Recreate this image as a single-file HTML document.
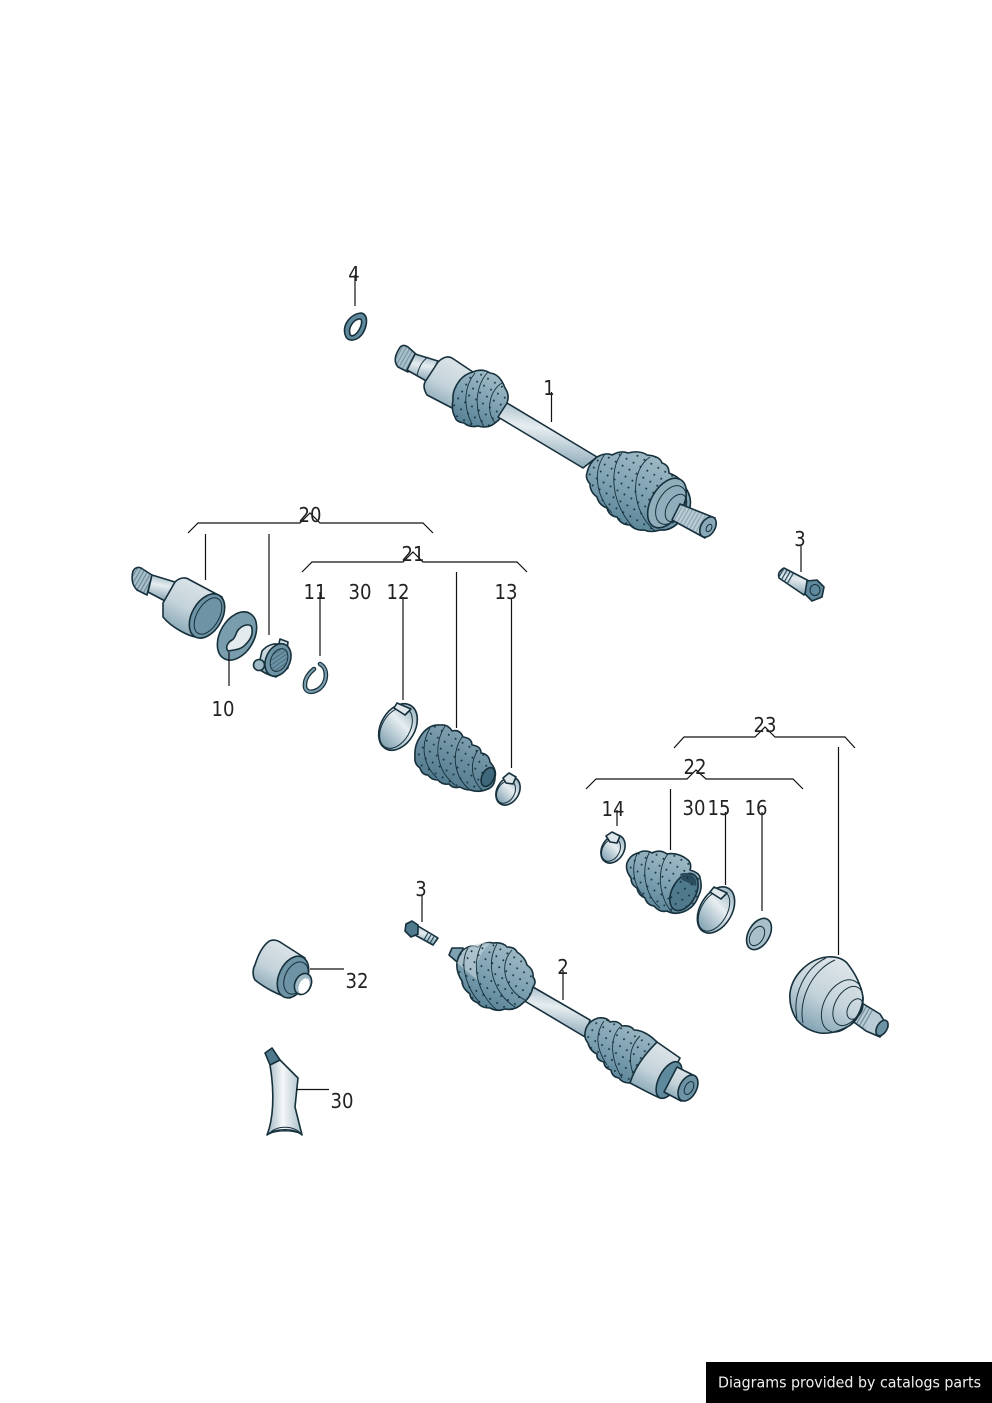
<!DOCTYPE html>
<html>
<head>
<meta charset="utf-8">
<style>
html,body{margin:0;padding:0;background:#fff;width:992px;height:1403px;overflow:hidden}
svg{display:block}
text{font-family:"DejaVu Sans","Liberation Sans",sans-serif;font-size:20px;fill:#222;text-anchor:middle}
.l{stroke:#111;stroke-width:1.2;fill:none}
.o{stroke:#16303c;stroke-width:1.6;stroke-linejoin:round}
.r{stroke:#16303c;stroke-width:.9;fill:none}
.s{stroke:#16303c;stroke-width:1;fill:none}
</style>
</head>
<body>
<svg width="992" height="1403" viewBox="0 0 992 1403" xmlns="http://www.w3.org/2000/svg">
<defs>
<linearGradient id="m" x1=".75" y1="0" x2=".25" y2="1"><stop offset="0" stop-color="#e0e7eb"/><stop offset=".55" stop-color="#c4d3da"/><stop offset="1" stop-color="#7d9fb0"/></linearGradient>
<linearGradient id="m2" x1=".75" y1="0" x2=".25" y2="1"><stop offset="0" stop-color="#6f8d9c"/><stop offset=".45" stop-color="#c4d2d9"/><stop offset="1" stop-color="#f6f9fa"/></linearGradient>
<linearGradient id="sh" x1=".6" y1="0" x2=".4" y2="1"><stop offset="0" stop-color="#9db6c2"/><stop offset=".4" stop-color="#e6edf0"/><stop offset="1" stop-color="#7f9fb0"/></linearGradient>
<linearGradient id="b" x1=".75" y1="0" x2=".25" y2="1"><stop offset="0" stop-color="#a4bdc9"/><stop offset=".5" stop-color="#7fa2b2"/><stop offset="1" stop-color="#537f93"/></linearGradient>
<linearGradient id="d" x1=".75" y1="0" x2=".25" y2="1"><stop offset="0" stop-color="#8aa8b6"/><stop offset="1" stop-color="#4a7488"/></linearGradient>
<linearGradient id="v" x1="0" y1="0" x2="1" y2="0"><stop offset="0" stop-color="#9fb6c2"/><stop offset=".45" stop-color="#f4f7f8"/><stop offset="1" stop-color="#a9bfca"/></linearGradient>
<pattern id="dots" width="8" height="8" patternUnits="userSpaceOnUse" patternTransform="rotate(30)"><circle cx="4" cy="4" r=".95" fill="#14303c"/></pattern>
<pattern id="spl" width="3.5" height="3.5" patternUnits="userSpaceOnUse" patternTransform="rotate(30)"><rect width="1.2" height="3.5" fill="#23485a"/></pattern>
<path id="b1" d="M473,372 Q482,368 490,373 Q500,374 505,388 Q510,395 507,403 Q505,416 495,423 Q488,429 478,426 Q470,428 464,423 Q456,422 455,417 Q451,410 453,400 Q452,390 460,380 Q465,374 473,372Z"/>
<path id="b2" d="M597,457 Q606,452 612,455 Q621,450 628,453 Q640,450 647,455 Q660,456 662,463 Q669,465 669,473 Q682,478 685,487 Q692,496 690,507 Q688,518 678,523 Q670,531 660,530 Q651,533 644,530 Q636,531 630,525 Q621,525 617,517 Q609,516 607,508 Q599,505 597,497 Q590,492 590,484 Q585,478 587,473 Q589,463 597,457Z"/>
<path id="b3" d="M420,737 Q428,724 440,725 Q448,724 452,731 Q460,729 463,737 Q472,738 472,745 Q481,746 481,753 Q489,754 490,762 Q497,770 495,777 Q495,786 488,789 Q479,793 470,790 Q465,790 460,787 Q453,789 449,784 Q442,785 438,780 Q431,780 428,775 Q422,775 420,768 Q414,764 415,757 Q414,746 420,737Z"/>
<path id="b4" d="M627,863 Q630,855 638,853 Q645,849 652,853 Q660,849 667,854 Q678,852 688,860 Q692,864 690,870 Q700,873 700,878 Q703,888 698,897 Q694,908 683,912 Q674,915 667,911 Q660,913 654,906 Q647,905 645,898 Q638,895 637,888 Q631,885 631,878 Q625,870 627,863Z"/>
<path id="b5" d="M463,950 Q471,944 478,947 Q486,941 493,943 Q503,942 507,947 Q515,947 517,952 Q525,957 527,965 Q534,970 533,977 Q537,982 533,987 Q531,997 523,1003 Q515,1011 505,1009 Q497,1012 490,1008 Q481,1008 478,1003 Q470,1000 470,994 Q462,988 462,981 Q456,972 457,963 Q458,955 463,950Z"/>
<path id="b6" d="M585,1033 Q586,1022 598,1018 Q607,1017 610,1022 Q618,1020 622,1026 Q631,1025 634,1030 Q645,1030 657,1042 Q650,1058 638,1072 L630,1083 Q622,1083 619,1078 Q612,1077 611,1070 Q604,1068 604,1062 Q596,1060 597,1054 Q590,1051 588,1043 Q584,1038 585,1033Z"/>
</defs>

<!-- Lock ring 4 -->
<path d="M346,337 C341,326 350,314 361,313 C368,314 368,324 363,333 C358,341 349,342 346,337Z M350,334 C351,338 356,335 359,330 C362,325 363,318 359,319 C353,320 348,328 350,334Z" fill="#5f8a9d" fill-rule="evenodd" class="o"/>

<!-- Part 1 -->
<path d="M399,349 Q402,343 408,347 L417,355 L408,372 L398,367 Q392,360 399,349Z" fill="#a9c0cb" class="o"/>
<path d="M399,349 Q402,343 408,347 L417,355 L408,372 L398,367 Q392,360 399,349Z" fill="url(#spl)" opacity=".35"/>
<path d="M415,354 L438,361 L428,382 L407,370Z" fill="url(#sh)" class="o"/>
<path d="M428,357 C421,362 418,370 417,376" class="s"/>
<path d="M438,362 C443,357 448,356 452,358 L473,372 L476,385 L460,412 L452,408 L427,395 C424,390 423,386 425,382Z" fill="url(#m)" class="o"/>
<use href="#b1" fill="url(#b)" class="o"/><use href="#b1" fill="url(#dots)"/>
<path d="M475,373 C465,385 462,405 472,424 M488,372 C476,385 473,408 484,427 M502,383 C490,390 485,410 495,423" class="r"/>
<path d="M507,403 L597,457 L583,468 L498,417 Z" fill="url(#sh)" class="o"/>
<use href="#b2" fill="url(#b)" class="o"/><use href="#b2" fill="url(#dots)"/>
<path d="M605,454 C593,470 595,495 612,513 M622,453 C608,470 612,505 633,527 M650,457 C630,470 630,510 655,531" class="r"/>
<ellipse cx="667" cy="503" rx="16" ry="27" transform="rotate(30 667 503)" fill="#8fadbb" class="o"/>
<ellipse cx="671" cy="505" rx="13" ry="21" transform="rotate(30 671 505)" fill="url(#m)" class="s"/>
<ellipse cx="676" cy="508" rx="9" ry="15" transform="rotate(30 676 508)" fill="#a9c0cb" class="s"/>
<path d="M680,504 L715,518 L705,538 L672,520Z" fill="#b9ccd5" class="o"/>
<path d="M680,504 L715,518 L705,538 L672,520Z" fill="url(#spl)" opacity=".3"/>
<ellipse cx="708" cy="527" rx="7" ry="11" transform="rotate(30 708 527)" fill="#8aa9b8" class="o"/>
<ellipse cx="709" cy="528" rx="2.500" ry="4" transform="rotate(30 709 528)" fill="#f2f6f7" class="s"/>

<!-- Bolt 3 top -->
<path d="M784,568 L811,582 L804,595 L779,578 Q777,572 784,568Z" fill="url(#sh)" class="o"/>
<path d="M784,568 L795,574 L789,585 L779,578 Q777,572 784,568Z" fill="url(#spl)"/>
<path d="M807,581 L817,580 L824,587 L822,597 L812,601 L805,594Z" fill="#5f8a9d" class="o"/>
<ellipse cx="815" cy="590" rx="5" ry="5.500" fill="#7fa2b2" class="s"/>

<!-- Part 20 joint -->
<path d="M133,571 Q136,566 141,568 L152,575 L147,595 L137,590 Q130,583 133,571Z" fill="#a9c0cb" class="o"/>
<path d="M133,571 Q136,566 141,568 L152,575 L147,595 L137,590 Q130,583 133,571Z" fill="url(#spl)" opacity=".45"/>
<path d="M152,575 L175,582 L165,601 L148,592Z" fill="url(#sh)" class="o"/>
<path d="M175,582 C180,577 186,577 190,580 L222,597 L222,605 L197,637 C190,637 172,628 163,617 L163,603Z" fill="url(#m)" class="o"/>
<ellipse cx="207" cy="616" rx="15" ry="24" transform="rotate(30 207 616)" fill="#6d93a5" class="o"/>
<ellipse cx="208" cy="616" rx="11" ry="20" transform="rotate(30 208 616)" fill="url(#m2)" class="s"/>

<!-- Ring 10 -->
<ellipse cx="237" cy="636" rx="17" ry="26" transform="rotate(30 237 636)" fill="#7a9dad" class="o"/>
<path d="M228,651 C224,646 230,641 232,640 C236,638 235,633 239,629 C244,624 252,623 252,629 C253,635 250,640 246,644 C241,650 234,650 228,651Z" fill="#e4ebee" class="o"/>

<!-- Hub -->
<path d="M280,639 L288,642 L287,650 L278,648Z" fill="#cfdce2" class="o"/>
<path d="M262,651 C268,644 276,642 284,646 L288,668 L276,677 C268,675 262,672 258,668Z" fill="url(#m)" class="o"/>
<circle cx="259" cy="665" r="5.500" fill="#9fb9c5" class="o"/>
<ellipse cx="278" cy="660" rx="12" ry="17" transform="rotate(25 278 660)" fill="#6d93a5" class="o"/>
<ellipse cx="279" cy="660" rx="8" ry="12" transform="rotate(25 279 660)" fill="#dce6ea" class="s"/>
<ellipse cx="279" cy="660" rx="8" ry="12" transform="rotate(25 279 660)" fill="url(#spl)" opacity=".45"/>

<!-- Circlip 11 -->
<path d="M320,664 C328,668 328,682 319,689 C311,694 304,692 305,684 C305,678 310,672 314,669" fill="none" stroke="#16303c" stroke-width="4.600" stroke-linecap="round"/>
<path d="M320,664 C328,668 328,682 319,689 C311,694 304,692 305,684 C305,678 310,672 314,669" fill="none" stroke="#7a9dad" stroke-width="2.200" stroke-linecap="round"/>

<!-- Clamp 12 -->
<ellipse cx="398" cy="727" rx="17" ry="25" transform="rotate(30 398 727)" fill="url(#sh)" class="o"/>
<ellipse cx="396" cy="728" rx="14" ry="22" transform="rotate(30 396 728)" fill="#fff" class="s"/>
<path d="M394,708 L397,703 L411,709 L405,715Z" fill="#dfe7eb" class="o"/>

<!-- Boot 21 -->
<use href="#b3" fill="url(#d)" class="o"/><use href="#b3" fill="url(#dots)"/>
<path d="M430,728 C420,745 423,765 437,778 M445,726 C433,745 436,770 455,785 M462,737 C450,755 455,778 470,790 M478,750 C470,762 470,778 482,790" class="r"/>
<ellipse cx="488" cy="777" rx="6" ry="10" transform="rotate(25 488 777)" fill="#3f687c" class="o"/>

<!-- Clamp 13 -->
<ellipse cx="508" cy="791" rx="11" ry="15" transform="rotate(30 508 791)" fill="url(#sh)" class="o"/>
<ellipse cx="506" cy="792" rx="8.500" ry="12" transform="rotate(30 506 792)" fill="#fff" class="s"/>
<path d="M503,778 L509,773 L516,777 L513,784 L506,783Z" fill="#dfe7eb" class="o"/>

<!-- Clamp 14 -->
<ellipse cx="613" cy="849" rx="11" ry="15" transform="rotate(30 613 849)" fill="url(#sh)" class="o"/>
<ellipse cx="611" cy="850" rx="8.500" ry="12" transform="rotate(30 611 850)" fill="#fff" class="s"/>
<path d="M606,836 L612,832 L620,836 L617,843 L610,842Z" fill="#dfe7eb" class="o"/>

<!-- Boot 22 -->
<use href="#b4" fill="url(#b)" class="o"/><use href="#b4" fill="url(#dots)"/>
<path d="M637,854 C630,870 635,888 645,898 M650,851 C640,870 645,895 660,908 M668,854 C655,870 660,900 672,912" class="r"/>
<ellipse cx="684" cy="892" rx="12" ry="20" transform="rotate(28 684 892)" fill="#4f7a8e" class="o"/>
<path d="M680,874 C690,870 698,878 696,886 L682,880Z" fill="#2a4c5d"/>
<ellipse cx="684" cy="892" rx="12" ry="20" transform="rotate(28 684 892)" fill="url(#dots)"/>

<!-- Clamp 15 -->
<ellipse cx="716" cy="910" rx="16" ry="25" transform="rotate(30 716 910)" fill="url(#sh)" class="o"/>
<ellipse cx="714" cy="911" rx="13" ry="22" transform="rotate(30 714 911)" fill="#fff" class="s"/>
<path d="M710,892 L714,887 L727,893 L721,899Z" fill="#dfe7eb" class="o"/>

<!-- Washer 16 -->
<ellipse cx="759" cy="934" rx="10.500" ry="17" transform="rotate(30 759 934)" fill="#a9c0cb" class="o"/>
<ellipse cx="757" cy="936" rx="6.500" ry="10.500" transform="rotate(30 757 936)" fill="#fff" class="s"/>

<!-- CV joint 23 -->
<path d="M857,1000 L880,1014 L888,1027 L880,1037 L866,1031 L851,1020Z" fill="#b9ccd5" class="o"/>
<path d="M857,1000 L873,1010 L865,1030 L851,1020Z" fill="url(#spl)" opacity=".5"/>
<ellipse cx="882" cy="1028" rx="5" ry="8.500" transform="rotate(30 882 1028)" fill="#6d93a5" class="o"/>
<path d="M790,993 C792,976 808,959 827,957 C838,956 844,960 847,963 C855,973 861,985 863,997 C864,1010 855,1024 847,1027 C838,1032 828,1034 820,1033 C809,1031 802,1026 797,1020 C792,1013 789,1003 790,993Z" fill="url(#m)" class="o"/>
<path d="M797,1018 C792,995 805,968 826,958 M803,1023 C798,1000 812,970 835,960" class="s"/>
<ellipse cx="842" cy="1006" rx="18" ry="28" transform="rotate(28 842 1006)" fill="#7398a9" class="s"/>
<ellipse cx="848" cy="1006" rx="13" ry="21" transform="rotate(28 848 1006)" fill="url(#m)" class="s"/>
<ellipse cx="855" cy="1009" rx="7" ry="11" transform="rotate(28 855 1009)" fill="#b9ccd5" class="s"/>

<!-- Bolt 3 lower -->
<path d="M418,926 L438,938 L433,945 L415,935Z" fill="url(#sh)" class="o"/>
<path d="M426,931 L438,938 L433,945 L423,940Z" fill="url(#spl)"/>
<path d="M406,924 L412,921 L418,925 L418,934 L411,937 L405,931Z" fill="#4f7a8e" class="o"/>

<!-- Part 2 -->
<path d="M452,948 L463,948 L462,960 L457,962 L449,955Z" fill="#7fa2b2" class="o"/>
<path d="M533,987 L590,1020 L585,1037 L523,1000Z" fill="url(#sh)" class="o"/>
<use href="#b5" fill="url(#b)" class="o"/>
<path d="M463,951 C470,945 482,942 490,943 C478,955 473,970 478,980 C470,975 460,965 457,963Z" fill="#c3d3da" opacity=".6"/>
<use href="#b5" fill="url(#dots)"/>
<path d="M468,948 C458,965 468,990 480,1003 M482,944 C470,965 478,995 497,1010 M497,944 C484,965 495,995 515,1007 M512,950 C498,965 505,990 525,1000" class="r"/>
<use href="#b6" fill="url(#b)" class="o"/><use href="#b6" fill="url(#dots)"/>
<path d="M604,1021 C594,1035 597,1050 607,1065 M620,1027 C608,1040 612,1062 622,1078 M640,1036 C628,1048 628,1065 636,1080" class="r"/>
<path d="M657,1042 L680,1058 L660,1098 C650,1094 640,1088 630,1083 C635,1066 647,1052 657,1042Z" fill="url(#m)" class="o"/>
<ellipse cx="669" cy="1080" rx="10" ry="20" transform="rotate(28 669 1080)" fill="#5f8a9d" class="o"/>
<path d="M677,1067 L695,1076 L681,1101 L664,1092Z" fill="url(#m)" class="o"/>
<ellipse cx="688" cy="1088" rx="8.500" ry="14" transform="rotate(28 688 1088)" fill="#6d93a5" class="o"/>
<ellipse cx="689" cy="1088" rx="4" ry="7" transform="rotate(28 689 1088)" fill="#fff" class="s"/>

<!-- Part 32 -->
<path d="M268,942 C272,939 277,940 280,942 L305,958 L300,990 L290,998 C278,995 265,988 255,980 C252,975 253,968 255,965 C258,955 262,947 268,942Z" fill="url(#m)" class="o"/>
<ellipse cx="293" cy="977" rx="14" ry="22" transform="rotate(25 293 977)" fill="#6d93a5" class="o"/>
<ellipse cx="296" cy="978" rx="11" ry="17" transform="rotate(25 296 978)" fill="url(#m)" class="s"/>
<ellipse cx="303" cy="984" rx="8" ry="11" transform="rotate(25 303 984)" fill="#9fb9c5" class="o"/>
<ellipse cx="304" cy="986" rx="5" ry="8" transform="rotate(25 304 986)" fill="#fff"/>

<!-- Tube 30 -->
<path d="M265,1053 L272,1048 L280,1060 L270,1065Z" fill="#4f7a8e" class="o"/>
<path d="M270,1065 L280,1060 L298,1078 L295,1107 L302,1135 C295,1128 275,1128 267,1135 C273,1120 275,1095 270,1065Z" fill="url(#v)" class="o"/>
<path d="M269,1134 C275,1125 295,1125 301,1134 C293,1130 277,1130 269,1134Z" fill="#a9c0cb" class="s"/>

<!-- Leader lines and brackets -->
<g class="l">
<path d="M188,533 L198,523 L300,523 L310,513 L320,523 L423,523 L433,533"/>
<path d="M302,572 L312,562 L403,562 L413,552 L423,562 L517,562 L527,572"/>
<path d="M586,789 L596,779 L687,779 L696,770 L706,779 L793,779 L803,789"/>
<path d="M674,748 L684,737 L755,737 L765,727 L775,737 L845,737 L855,748"/>
<path d="M205.500,534V580M269,534V635M229,652V686M320,592V656M403,597V700M456.500,572V728M511.500,598V768"/>
<path d="M670.500,789V850M617,810V826M725.500,812V885M762,812V911M838.500,747V955"/>
<path d="M355,275V306M551.500,392V422M801,545V572M422,895V922M563,970V1000M310,969H344M296,1089.500H329"/>
</g>

<!-- Labels -->
<g transform="translate(0,-1)">
<text x="354" y="282" textLength="11.500" lengthAdjust="spacingAndGlyphs">4</text>
<text x="549" y="396" textLength="11.500" lengthAdjust="spacingAndGlyphs">1</text>
<text x="310" y="523" textLength="23" lengthAdjust="spacingAndGlyphs">20</text>
<text x="413" y="562" textLength="23" lengthAdjust="spacingAndGlyphs">21</text>
<text x="315" y="600" textLength="23" lengthAdjust="spacingAndGlyphs">11</text>
<text x="360" y="600" textLength="23" lengthAdjust="spacingAndGlyphs">30</text>
<text x="398" y="600" textLength="23" lengthAdjust="spacingAndGlyphs">12</text>
<text x="506" y="600" textLength="23" lengthAdjust="spacingAndGlyphs">13</text>
<text x="223" y="717" textLength="23" lengthAdjust="spacingAndGlyphs">10</text>
<text x="800" y="547" textLength="11.500" lengthAdjust="spacingAndGlyphs">3</text>
<text x="765" y="733" textLength="23" lengthAdjust="spacingAndGlyphs">23</text>
<text x="695" y="775" textLength="23" lengthAdjust="spacingAndGlyphs">22</text>
<text x="613" y="817" textLength="23" lengthAdjust="spacingAndGlyphs">14</text>
<text x="694" y="816" textLength="23" lengthAdjust="spacingAndGlyphs">30</text>
<text x="719" y="816" textLength="23" lengthAdjust="spacingAndGlyphs">15</text>
<text x="756" y="816" textLength="23" lengthAdjust="spacingAndGlyphs">16</text>
<text x="421" y="897" textLength="11.500" lengthAdjust="spacingAndGlyphs">3</text>
<text x="563" y="975" textLength="11.500" lengthAdjust="spacingAndGlyphs">2</text>
<text x="357" y="989" textLength="23" lengthAdjust="spacingAndGlyphs">32</text>
<text x="342" y="1109" textLength="23" lengthAdjust="spacingAndGlyphs">30</text>
</g>

<!-- Banner -->
<rect x="706" y="1362" width="286" height="41" fill="#000"/>
<text x="718" y="1387.500" style="font-size:15.500px;fill:#f0f0f0;text-anchor:start" textLength="263" lengthAdjust="spacingAndGlyphs">Diagrams provided by catalogs parts</text>
</svg>
</body>
</html>
